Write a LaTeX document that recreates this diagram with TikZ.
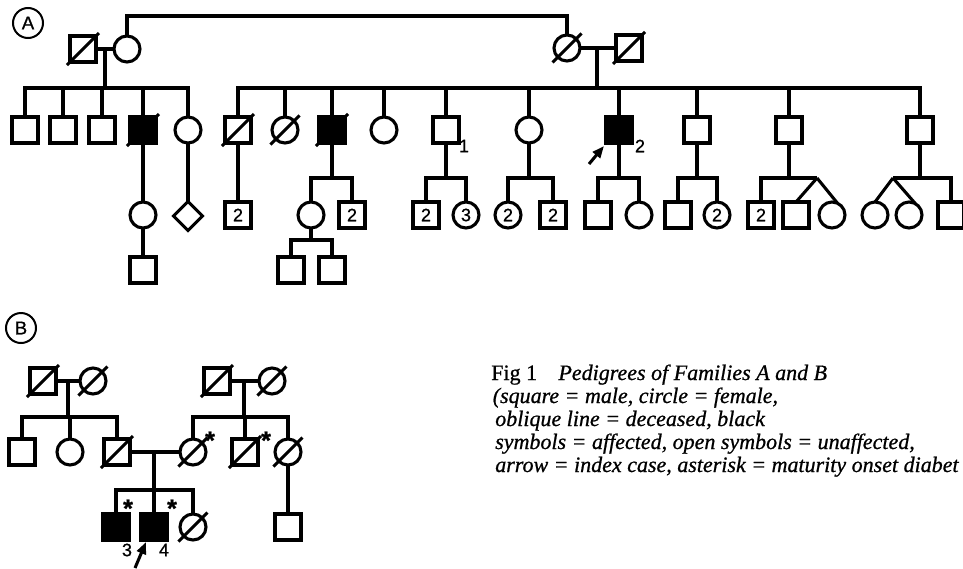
\documentclass[tikz,border=0pt]{standalone}
\usepackage{fontspec}
\setmainfont{Liberation Serif}
\newfontfamily\capfont[FakeBold=0.8,ItalicFeatures={FakeBold=0.8}]{Liberation Serif}
\newfontfamily\pedfont[FakeBold=0.8]{Liberation Sans}
\usetikzlibrary{shapes.geometric,arrows.meta}
\newcommand\decsq[1]{\draw[ln] ([shift={(-16,16)}]#1.center) -- ([shift={(16,-16)}]#1.center);}
\newcommand\decci[1]{\draw[ln] ([shift={(-14.5,14.5)}]#1.center) -- ([shift={(14.5,-14.5)}]#1.center);}
\begin{document}
\begin{tikzpicture}[x=0.75pt,y=-0.75pt,
 ln/.style={line width=2.3pt},
 pn/.style={draw,line width=2.3pt,inner sep=0pt,outer sep=0pt,minimum size=19.5pt,font=\pedfont\fontsize{13.5}{13.5}\selectfont},
 sq/.style={pn,rectangle},
 ci/.style={pn,circle},
 aff/.style={fill=black},
 dia/.style={pn,diamond,minimum size=21.75pt},
 lab/.style={inner sep=0pt,font=\pedfont\fontsize{13.5}{13.5}\selectfont},
 star/.style={inner sep=0pt,anchor=base,font=\pedfont\bfseries\fontsize{19}{19}\selectfont},
 idx/.style={line width=2.3pt,-{Triangle[length=9pt,width=7pt]}},
 fam/.style={draw,circle,line width=1.5pt,inner sep=0pt,minimum size=22.5pt,font=\pedfont\fontsize{14}{14}\selectfont},
 captxt/.style={anchor=base west,inner sep=0pt,font=\capfont\fontsize{16.5}{16}\selectfont},
]
\useasboundingbox (0,0) rectangle (963,568);
% ---------------- Family A ----------------
\node[fam] (labA) at (28,23) {A};
% generation I
\node[sq] (A1) at (83,49) {};
\node[ci] (A2) at (127,49) {};
\node[ci] (A3) at (567,48) {};
\node[sq] (A4) at (629,48) {};
\decsq{A1} \decci{A3} \decsq{A4}
\coordinate (top) at (350,16);
\draw[ln] (A2.north) |- (top) -| (A3.north);
\draw[ln] (A1.east) -- (A2.west);
\draw[ln] (A3.east) -- (A4.west);
\coordinate (mA) at (105,49);
\coordinate (mB) at (597,48);
\coordinate (sA) at (105,88);
% generation II left
\node[sq] (B1) at (25,130) {};
\node[sq] (B2) at (63,130) {};
\node[sq] (B3) at (102,130) {};
\node[sq,aff] (B4) at (143,130) {};
\node[ci] (B5) at (188,130) {};
\decsq{B4}
\draw[ln] (mA) -- (mA |- sA);
\draw[ln] (B1.north) -- (B1.north |- sA) -- (B5.north |- sA) -- (B5.north);
\foreach \c in {B2,B3,B4} \draw[ln] (\c.north) -- (\c.north |- sA);
% generation II right
\node[sq] (C1) at (238,130) {};
\node[ci] (C2) at (285,130) {};
\node[sq,aff] (C3) at (332,130) {};
\node[ci] (C4) at (384,130) {};
\node[sq] (C5) at (446,130) {};
\node[ci] (C6) at (529,130) {};
\node[sq,aff] (C7) at (619,130) {};
\node[sq] (C8) at (697,130) {};
\node[sq] (C9) at (789,130) {};
\node[sq] (C10) at (920,130) {};
\decsq{C1} \decci{C2} \decsq{C3}
\draw[ln] (mB) -- (mB |- sA);
\draw[ln] (C1.north) -- (C1.north |- sA) -- (C10.north |- sA) -- (C10.north);
\foreach \c in {C2,C3,C4,C5,C6,C7,C8,C9} \draw[ln] (\c.north) -- (\c.north |- sA);
\node[lab] (n1) at (464,146) {1};
\node[lab] (n2) at (640,146) {2};
\coordinate (arA) at (589,164);
\coordinate (arAt) at (604,146);
\draw[idx] (arA) -- (arAt);
% generation III
\node[ci] (D1) at (143,215) {};
\node[sq] (D2) at (143,270) {};
\draw[ln] (B4.south) -- (D1.north);
\draw[ln] (D1.south) -- (D2.north);
\node[dia] (D3) at (188,216) {};
\draw[ln] (B5.south) -- (D3.north);
\node[sq] (D4) at (238,215) {2};
\draw[ln] (C1.south) -- (D4.north);
\coordinate (s3) at (332,178);
\node[ci] (D5) at (311,215) {};
\node[sq] (D6) at (352,215) {2};
\draw[ln] (C3.south) -- (s3);
\draw[ln] (D5.north) -- (D5.north |- s3) -- (D6.north |- s3) -- (D6.north);
\coordinate (s5) at (311,240);
\node[sq] (D7) at (291,270) {};
\node[sq] (D8) at (332,270) {};
\draw[ln] (D5.south) -- (s5);
\draw[ln] (D7.north) -- (D7.north |- s5) -- (D8.north |- s5) -- (D8.north);
\coordinate (s55) at (446,178);
\node[sq] (D9) at (426,215) {2};
\node[ci] (D10) at (466,215) {3};
\draw[ln] (C5.south) -- (s55);
\draw[ln] (D9.north) -- (D9.north |- s55) -- (D10.north |- s55) -- (D10.north);
\coordinate (s6) at (529,178);
\node[ci] (D11) at (508,215) {2};
\node[sq] (D12) at (553,215) {2};
\draw[ln] (C6.south) -- (s6);
\draw[ln] (D11.north) -- (D11.north |- s6) -- (D12.north |- s6) -- (D12.north);
\coordinate (s7) at (619,178);
\node[sq] (D13) at (598,215) {};
\node[ci] (D14) at (639,215) {};
\draw[ln] (C7.south) -- (s7);
\draw[ln] (D13.north) -- (D13.north |- s7) -- (D14.north |- s7) -- (D14.north);
\coordinate (s8) at (697,178);
\node[sq] (D15) at (678,215) {};
\node[ci] (D16) at (717,215) {2};
\draw[ln] (C8.south) -- (s8);
\draw[ln] (D15.north) -- (D15.north |- s8) -- (D16.north |- s8) -- (D16.north);
\coordinate (s9) at (789,178);
\coordinate (ap9) at (817,178);
\node[sq] (D17) at (761,215) {2};
\node[sq] (D18) at (796,215) {};
\node[ci] (D19) at (832,215) {};
\draw[ln] (C9.south) -- (s9);
\draw[ln] (D17.north) -- (D17.north |- s9) -- (ap9);
\draw[ln] (ap9) -- (D18.north);
\draw[ln] (ap9) -- (D19.65);
\coordinate (s10) at (920,178);
\coordinate (ap10) at (893,178);
\node[ci] (D20) at (875,215) {};
\node[ci] (D21) at (909,215) {};
\node[sq] (D22) at (951,215) {};
\draw[ln] (C10.south) -- (s10);
\draw[ln] (ap10) -- (D22.north |- s10) -- (D22.north);
\draw[ln] (ap10) -- (D20.north);
\draw[ln] (ap10) -- (D21.60);
% ---------------- Family B ----------------
\node[fam] (labB) at (21,328) {B};
\node[sq] (E1) at (43,381) {};
\node[ci] (E2) at (93,381) {};
\node[sq] (E3) at (217,381) {};
\node[ci] (E4) at (272,381) {};
\decsq{E1} \decci{E2} \decsq{E3} \decci{E4}
\draw[ln] (E1.east) -- (E2.west);
\draw[ln] (E3.east) -- (E4.west);
\coordinate (mE1) at (68,381);
\coordinate (mE2) at (244,381);
\coordinate (sE) at (68,417);
\node[sq] (F1) at (22,452) {};
\node[ci] (F2) at (70,452) {};
\node[sq] (F3) at (117,452) {};
\node[ci] (F4) at (193,452) {};
\node[sq] (F5) at (245,452) {};
\node[ci] (F6) at (288,452) {};
\decsq{F3} \decci{F4} \decsq{F5} \decci{F6}
\draw[ln] (mE1) -- (mE1 |- sE);
\draw[ln] (F1.north) -- (F1.north |- sE) -- (F3.north |- sE) -- (F3.north);
\draw[ln] (F2.north) -- (F2.north |- sE);
\draw[ln] (mE2) -- (mE2 |- sE);
\draw[ln] (F4.north) -- (F4.north |- sE) -- (F6.north |- sE) -- (F6.north);
\draw[ln] (F5.north) -- (F5.north |- sE);
\node[star] (st1) at (210,449) {*};
\node[star] (st2) at (266,449) {*};
\draw[ln] (F3.east) -- (F4.west);
\coordinate (mF) at (154,452);
\coordinate (sF) at (154,490);
\node[sq,aff] (G1) at (116,527) {};
\node[sq,aff] (G2) at (154,527) {};
\node[ci] (G3) at (193,527) {};
\decci{G3}
\draw[ln] (mF) -- (sF);
\draw[ln] (G1.north) -- (G1.north |- sF) -- (G3.north |- sF) -- (G3.north);
\draw[ln] (G2.north) -- (G2.north |- sF);
\node[star] (st3) at (128,517) {*};
\node[star] (st4) at (172,517) {*};
\node[sq] (G4) at (288,527) {};
\draw[ln] (F6.south) -- (G4.north);
\node[lab] (n3) at (127,550) {3};
\node[lab] (n4) at (164,550) {4};
\coordinate (arB) at (135,568);
\coordinate (arBt) at (146,542);
\draw[idx] (arB) -- (arBt);
% ---------------- caption ----------------
\node[captxt] (c1) at (491,380) {Fig 1\hspace{16pt}\textit{Pedigrees of Families A and B}};
\node[captxt] (c2) at (492.5,403) {\textit{(square = male, circle = female,}};
\node[captxt] (c3) at (495,426) {\textit{oblique line = deceased, black}};
\node[captxt] (c4) at (495,449) {\textit{symbols = affected, open symbols = unaffected,}};
\node[captxt] (c5) at (495,472) {\textit{arrow = index case, asterisk = maturity onset diabet}};
\end{tikzpicture}
\end{document}
